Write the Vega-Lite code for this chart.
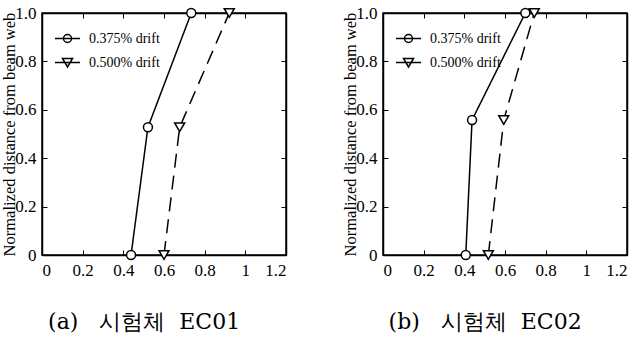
{
  "$schema": "https://vega.github.io/schema/vega-lite/v6.json",
  "padding": {"left": 0, "top": 3, "right": 2, "bottom": 0},
  "background": "white",
  "data": {"values": [
    {"panel": "a", "series": "0.375% drift", "x": 0.438, "y": 0},
    {"panel": "a", "series": "0.375% drift", "x": 0.521, "y": 0.528},
    {"panel": "a", "series": "0.375% drift", "x": 0.734, "y": 1},
    {"panel": "a", "series": "0.500% drift", "x": 0.600, "y": 0},
    {"panel": "a", "series": "0.500% drift", "x": 0.677, "y": 0.528},
    {"panel": "a", "series": "0.500% drift", "x": 0.921, "y": 1},
    {"panel": "b", "series": "0.375% drift", "x": 0.407, "y": 0},
    {"panel": "b", "series": "0.375% drift", "x": 0.438, "y": 0.558},
    {"panel": "b", "series": "0.375% drift", "x": 0.700, "y": 1},
    {"panel": "b", "series": "0.500% drift", "x": 0.518, "y": 0},
    {"panel": "b", "series": "0.500% drift", "x": 0.594, "y": 0.558},
    {"panel": "b", "series": "0.500% drift", "x": 0.744, "y": 1}
  ]},
  "spacing": 53,
  "config": {
    "view": {"stroke": "black", "strokeWidth": 1.5},
    "axis": {
      "grid": false,
      "domainColor": "black",
      "domainWidth": 1.5,
      "tickColor": "black",
      "tickWidth": 1,
      "tickSize": -5,
      "labelFont": "Liberation Serif",
      "labelFontSize": 17,
      "labelColor": "black",
      "titleFont": "Liberation Serif",
      "titleFontSize": 16.5,
      "titleFontWeight": "normal",
      "titleColor": "black"
    },
    "legend": {
      "labelFont": "Liberation Serif",
      "labelFontSize": 14,
      "labelColor": "black"
    },
    "title": {"font": "DejaVu Serif", "fontSize": 22, "fontWeight": "normal", "color": "black"}
  },
  "hconcat": [
    {
      "width": 244, "height": 242,
      "title": {"text": "(a)\u00a0\u00a0\u00a0시험체\u00a0\u00a0EC01", "orient": "bottom", "frame": "bounds", "anchor": "middle", "offset": 34},
      "transform": [{"filter": "datum.panel == 'a'"}],
      "layer": [
        {
          "mark": {"type": "line", "color": "black", "strokeWidth": 1.5},
          "encoding": {
            "x": {"field": "x", "type": "quantitative", "scale": {"domain": [0, 1.2], "nice": false},
                  "axis": {"orient": "bottom", "values": [0, 0.2, 0.4, 0.6, 0.8, 1, 1.2], "format": "~g", "labelPadding": 12, "title": null}},
            "y": {"field": "y", "type": "quantitative", "scale": {"domain": [0, 1], "nice": false},
                  "axis": {"orient": "left", "values": [0, 0.2, 0.4, 0.6, 0.8, 1], "format": "~g", "labelPadding": 11, "labelExpr": "datum.value == 1 ? '1.0' : datum.label", "title": "Normalized distance from beam web", "titlePadding": -3}},
            "strokeDash": {"field": "series", "type": "nominal", "scale": {"domain": ["0.375% drift", "0.500% drift"], "range": [[1, 0], [14, 8]]}, "legend": null}
          }
        },
        {
          "mark": {"type": "point", "filled": true, "fill": "white", "stroke": "black", "strokeWidth": 1.5, "opacity": 1},
          "encoding": {
            "x": {"field": "x", "type": "quantitative", "axis": {"orient": "top", "values": [0, 0.2, 0.4, 0.6, 0.8, 1, 1.2], "labels": false, "title": null}},
            "y": {"field": "y", "type": "quantitative", "axis": {"orient": "right", "values": [0, 0.2, 0.4, 0.6, 0.8, 1], "labels": false, "title": null}},
            "shape": {"field": "series", "type": "nominal", "scale": {"domain": ["0.375% drift", "0.500% drift"], "range": ["circle", "triangle-down"]}, "legend": null},
            "size": {"field": "series", "type": "nominal", "scale": {"domain": ["0.375% drift", "0.500% drift"], "range": [80, 100]}, "legend": null}
          }
        },
        {
          "mark": {"type": "point", "opacity": 0},
          "encoding": {
            "x": {"field": "x", "type": "quantitative", "axis": null},
            "y": {"field": "y", "type": "quantitative", "axis": null},
            "shape": {"field": "series", "type": "nominal",
              "scale": {"domain": ["0.375% drift", "0.500% drift"], "range": ["M-1,0L1,0M-0.32,0A0.32,0.32 0 1,1 0.32,0A0.32,0.32 0 1,1 -0.32,0Z", "M-1,0L1,0M-0.4,-0.32L0.4,-0.32L0,0.36Z"]},
              "legend": {"title": null, "orient": "top-left", "offset": 12, "symbolSize": 625, "symbolOpacity": 1, "symbolStrokeColor": "black", "symbolFillColor": "white", "symbolStrokeWidth": 1.5, "rowPadding": 3, "labelOffset": 8, "padding": 0}}
          }
        }
      ],
      "resolve": {"axis": {"x": "independent", "y": "independent"}, "scale": {"shape": "independent", "size": "independent"}}
    },
    {
      "width": 244, "height": 242,
      "title": {"text": "(b)\u00a0\u00a0\u00a0시험체\u00a0\u00a0EC02", "orient": "bottom", "frame": "bounds", "anchor": "middle", "offset": 34},
      "transform": [{"filter": "datum.panel == 'b'"}],
      "layer": [
        {
          "mark": {"type": "line", "color": "black", "strokeWidth": 1.5},
          "encoding": {
            "x": {"field": "x", "type": "quantitative", "scale": {"domain": [0, 1.2], "nice": false},
                  "axis": {"orient": "bottom", "values": [0, 0.2, 0.4, 0.6, 0.8, 1, 1.2], "format": "~g", "labelPadding": 12, "title": null}},
            "y": {"field": "y", "type": "quantitative", "scale": {"domain": [0, 1], "nice": false},
                  "axis": {"orient": "left", "values": [0, 0.2, 0.4, 0.6, 0.8, 1], "format": "~g", "labelPadding": 11, "labelExpr": "datum.value == 1 ? '1.0' : datum.label", "title": "Normalized distance from beam web", "titlePadding": -3}},
            "strokeDash": {"field": "series", "type": "nominal", "scale": {"domain": ["0.375% drift", "0.500% drift"], "range": [[1, 0], [14, 8]]}, "legend": null}
          }
        },
        {
          "mark": {"type": "point", "filled": true, "fill": "white", "stroke": "black", "strokeWidth": 1.5, "opacity": 1},
          "encoding": {
            "x": {"field": "x", "type": "quantitative", "axis": {"orient": "top", "values": [0, 0.2, 0.4, 0.6, 0.8, 1, 1.2], "labels": false, "title": null}},
            "y": {"field": "y", "type": "quantitative", "axis": {"orient": "right", "values": [0, 0.2, 0.4, 0.6, 0.8, 1], "labels": false, "title": null}},
            "shape": {"field": "series", "type": "nominal", "scale": {"domain": ["0.375% drift", "0.500% drift"], "range": ["circle", "triangle-down"]}, "legend": null},
            "size": {"field": "series", "type": "nominal", "scale": {"domain": ["0.375% drift", "0.500% drift"], "range": [80, 100]}, "legend": null}
          }
        },
        {
          "mark": {"type": "point", "opacity": 0},
          "encoding": {
            "x": {"field": "x", "type": "quantitative", "axis": null},
            "y": {"field": "y", "type": "quantitative", "axis": null},
            "shape": {"field": "series", "type": "nominal",
              "scale": {"domain": ["0.375% drift", "0.500% drift"], "range": ["M-1,0L1,0M-0.32,0A0.32,0.32 0 1,1 0.32,0A0.32,0.32 0 1,1 -0.32,0Z", "M-1,0L1,0M-0.4,-0.32L0.4,-0.32L0,0.36Z"]},
              "legend": {"title": null, "orient": "top-left", "offset": 12, "symbolSize": 625, "symbolOpacity": 1, "symbolStrokeColor": "black", "symbolFillColor": "white", "symbolStrokeWidth": 1.5, "rowPadding": 3, "labelOffset": 8, "padding": 0}}
          }
        }
      ],
      "resolve": {"axis": {"x": "independent", "y": "independent"}, "scale": {"shape": "independent", "size": "independent"}}
    }
  ]
}
